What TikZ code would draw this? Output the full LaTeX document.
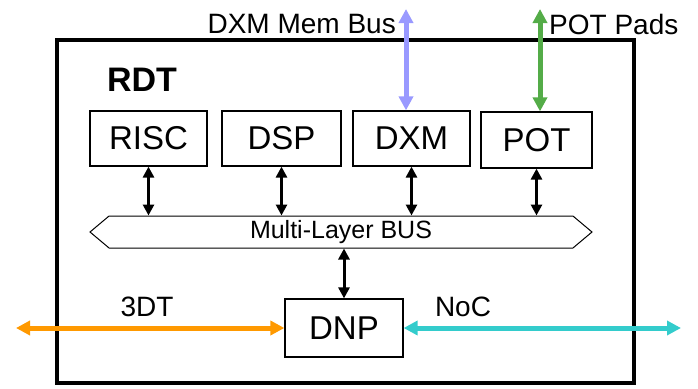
\documentclass[tikz,border=0pt]{standalone}
\usepackage{fontspec}
\setmainfont{Liberation Sans}
\definecolor{memblue}{RGB}{153,153,255}
\definecolor{padgreen}{RGB}{84,172,72}
\definecolor{tsvorange}{RGB}{255,153,0}
\definecolor{noccyan}{RGB}{51,204,204}
\usetikzlibrary{arrows.meta,positioning,shapes.symbols}

\begin{document}
\begin{tikzpicture}[x=1pt,y=-1pt,
  unit/.style={
    rectangle, draw=black, line width=1.2pt,
    inner sep=0pt,
    font=\fontsize{33}{36}\selectfont
  },
  buslane/.style={
    signal, signal to=west and east, signal pointer angle=80,
    draw=black, line width=1pt, inner sep=0pt,
    minimum width=502pt, minimum height=32pt,
    font=\fontsize{25}{28}\selectfont
  },
  conn/.style={{Triangle[length=11pt,width=11pt]}-{Triangle[length=11pt,width=11pt]}, line width=3pt},
  extlink/.style={{Triangle[length=14pt,width=14pt]}-{Triangle[length=14pt,width=14pt]}, line width=5pt},
  lbl/.style={inner sep=0pt, font=\fontsize{28}{30}\selectfont}
]
\useasboundingbox (0,0) rectangle (698,388);

% chip outline
\draw[line width=4.5pt] (57,40) rectangle (634,383);
\node[inner sep=0pt, font=\fontsize{34}{36}\selectfont\bfseries] (rdt) at (142,80) {RDT};

% cores and bus
\node[unit, minimum width=117pt, minimum height=55pt] (risc) at (148.5,138.5) {RISC};
\node[unit, minimum width=119pt, minimum height=55pt] (dsp)  at (281.5,138.5) {DSP};
\node[unit, minimum width=117pt, minimum height=55pt] (dxm)  at (411.5,138.5) {DXM};
\node[unit, minimum width=111pt, minimum height=56pt] (pot)  at (536.5,140)   {POT};
\node[buslane] (bus) at (341,232) {Multi-Layer BUS};
\node[unit, minimum width=118pt, minimum height=58pt] (dnp)  at (344,328)   {DNP};

\draw[conn] (risc.south) -- (risc.south |- bus.north);
\draw[conn] (dsp.south)  -- (dsp.south |- bus.north);
\draw[conn] (dxm.south)  -- (dxm.south |- bus.north);
\draw[conn] (pot.south)  -- (pot.south |- bus.north);
\draw[conn] (dnp.north |- bus.south) -- (dnp.north);

% off-chip links
\coordinate (membus) at (406,9);
\coordinate (pads)   at (540,9);
\coordinate (tdt)    at (16,328);
\coordinate (noc)    at (681,328);
\draw[extlink, memblue]    (membus) -- (membus |- dxm.north);
\draw[extlink, padgreen]   (pads) -- (pads |- pot.north);
\draw[extlink, tsvorange]  (tdt) -- (dnp.west);
\draw[extlink, noccyan]    (dnp.east) -- (noc);

\node[lbl, anchor=east] (membuslbl) at (396,24) {DXM Mem Bus};
\node[lbl, anchor=west] (padslbl)   at (549,24) {POT Pads};
\node[lbl] (tdtlbl) at (147,307) {3DT};
\node[lbl] (noclbl) at (463,307) {NoC};
\end{tikzpicture}
\end{document}
